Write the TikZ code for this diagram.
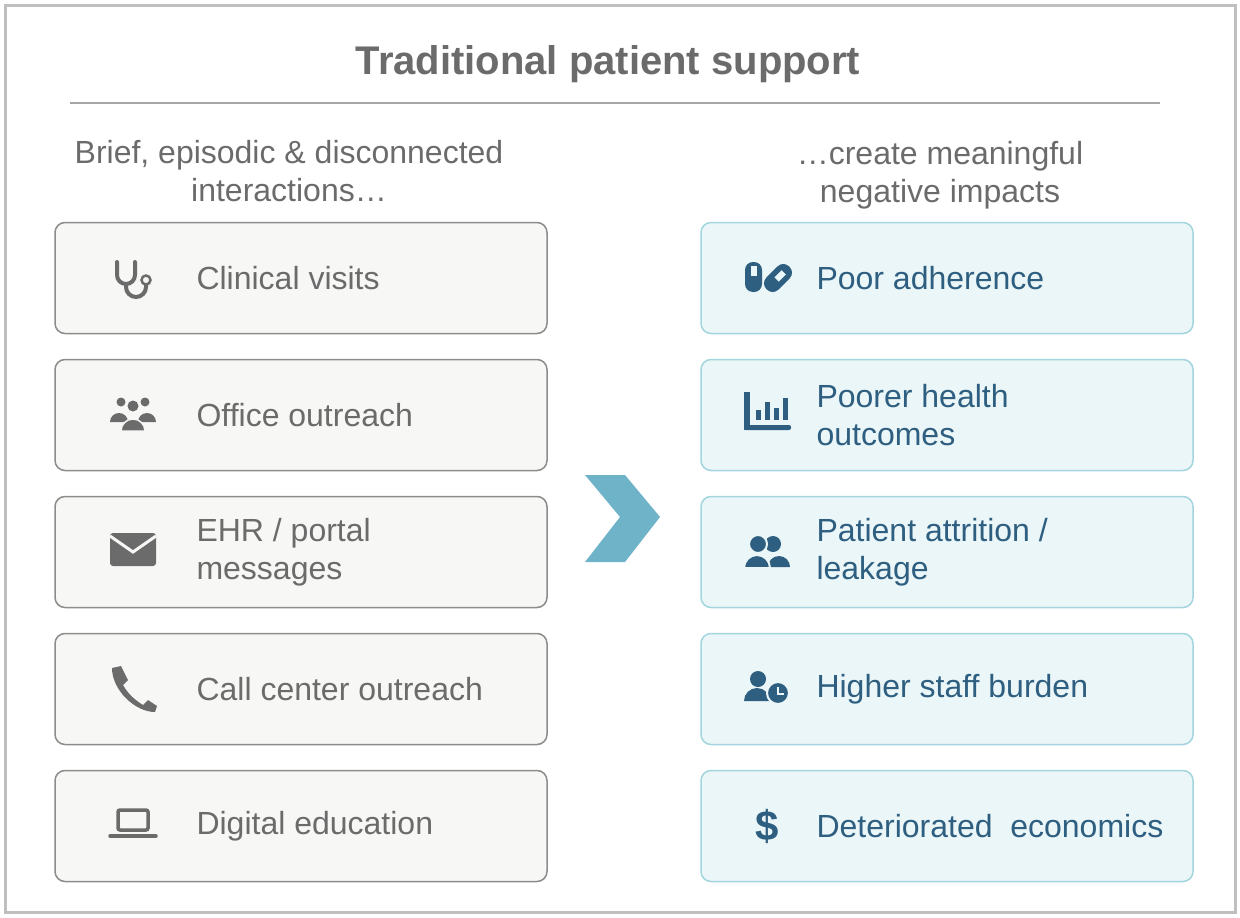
\documentclass[tikz,border=0pt]{standalone}
\usepackage{fontspec}
\setmainfont{Liberation Sans}
\usetikzlibrary{positioning}
\definecolor{txtgray}{HTML}{6B6B6B}
\definecolor{boxgray}{HTML}{8C8C8C}
\definecolor{fillgray}{HTML}{F7F7F5}
\definecolor{fillteal}{HTML}{EAF6F7}
\definecolor{drawteal}{HTML}{A3D5DE}
\definecolor{navy}{HTML}{2E5E80}
\definecolor{chevron}{HTML}{6FB3C8}
\tikzset{
  leftbox/.style={draw=boxgray, line width=1.5pt, fill=fillgray, rounded corners=10pt, minimum width=492pt, minimum height=111pt},
  rightbox/.style={draw=drawteal, line width=1.5pt, fill=fillteal, rounded corners=10pt, minimum width=492pt, minimum height=111pt},
  lefttext/.style={anchor=west, text=txtgray, font=\fontsize{32}{38}\selectfont, align=left},
  righttext/.style={anchor=west, text=navy, font=\fontsize{32}{38}\selectfont, align=left},
  header/.style={text=txtgray, font=\fontsize{32}{38}\selectfont, align=center},
}
\begin{document}
\begin{tikzpicture}[x=1pt,y=-1pt]
\useasboundingbox (0,0) rectangle (1240,918);
\draw[draw=black!25, line width=3pt] (5,5) rectangle (1235,912);
\node[text=txtgray, font=\bfseries\fontsize{40}{44}\selectfont] (title) at (608,64) {Traditional patient support};
\draw[black!35, line width=1.5pt] (70,103) -- (1160,103);
\node[header] (lhead) at (289,171) {Brief, episodic \& disconnected\\interactions…};
\node[header] (rhead) at (940,175) {…create meaningful\\negative impacts};
% left column
\foreach \i/\yy/\txt in {1/278/Clinical visits, 2/415/Office outreach, 3/552/{EHR / portal\\messages}, 4/689/Call center outreach, 5/826/Digital education} {
  \node[leftbox] (lbox\i) at (301,\yy) {};
  \node[lefttext] (ltext\i) at (193,\yy) {\txt};
}
% right column
\foreach \i/\yy/\txt in {1/278/Poor adherence, 2/415/{Poorer health\\outcomes}, 3/552/{Patient attrition /\\leakage}, 4/689/Higher staff burden, 5/826/Deteriorated~~economics} {
  \node[rightbox] (rbox\i) at (947,\yy) {};
  \node[righttext] (rtext\i) at (813,\yy) {\txt};
}
% chevron
\fill[chevron] (585,475) -- (625,475) -- (660,517) -- (625,562) -- (585,562) -- (620,517) -- cycle;
% icons left
\begin{scope}[txtgray, line width=4pt]
  \draw[line cap=round] (117,262) -- (117,275) arc[start angle=180, end angle=0, radius=9] -- (135,262);
  \draw (126,284) -- (126,287) arc[start angle=180, end angle=0, radius=10] -- (146,285);
  \draw[line width=2.5pt] (146,280) circle (4.5);
  \fill (121,402) circle (4.5); \fill (145,402) circle (4.5); \fill (133,406) circle (5.5);
  \fill (110,422) arc[start angle=180, end angle=360, radius=9] -- cycle;
  \fill (138,422) arc[start angle=180, end angle=360, radius=9] -- cycle;
  \fill[draw=fillgray, line width=1.5pt] (121,431) arc[start angle=180, end angle=360, radius=12] -- cycle;
  \fill[rounded corners=3pt] (110,533) rectangle (156,566);
  \draw[fillgray, line width=3pt] (110,536) -- (133,552) -- (156,536);
  \fill (112,668) -- (121,666) -- (128,680) -- (123,685) .. controls (128,694) and (135,700) .. (143,705) -- (148,700) -- (157,706) -- (155,712) .. controls (135,712) and (112,690) .. (112,668) -- cycle;
  \draw[line width=3.5pt, rounded corners=2pt] (118,810) rectangle (148,830);
  \draw[line width=3.5pt, line cap=round] (110,836) -- (156,836);
\end{scope}
% icons right
\begin{scope}[navy]
  \fill[rounded corners=8pt] (745,262) rectangle (762,292);
  \fill[fillteal] (751,266) rectangle (757,276);
  \begin{scope}[shift={(778,278)}, rotate=45]
    \fill[rounded corners=8pt] (-16,-8.5) rectangle (16,8.5);
    \fill[fillteal] (-2,-3) rectangle (8,3);
  \end{scope}
  \fill (744,392) rectangle (750,430); \fill[rounded corners=2pt] (744,425) rectangle (791,430);
  \fill (756,410) rectangle (761,420); \fill (765,402) rectangle (770,420);
  \fill (774,408) rectangle (779,420); \fill (783,398) rectangle (788,420);
  \fill (773,544) circle (8); \fill[draw=fillteal, line width=2pt] (758,544) circle (9);
  \fill (768,567) arc[start angle=180, end angle=360, radius=11] -- cycle;
  \fill[draw=fillteal, line width=2pt] (744,568) arc[start angle=180, end angle=360, radius=13] -- cycle;
  \fill (758,679) circle (8);
  \fill (744,701) arc[start angle=180, end angle=360, radius=13] -- cycle;
  \fill[draw=fillteal, line width=2pt] (778,693) circle (11);
  \draw[fillteal, line width=2pt] (778,687) -- (778,694) -- (784,694);
  \node[text=navy, font=\bfseries\fontsize{42}{42}\selectfont] (dollar) at (767,826) {\$};
\end{scope}
\end{tikzpicture}
\end{document}
